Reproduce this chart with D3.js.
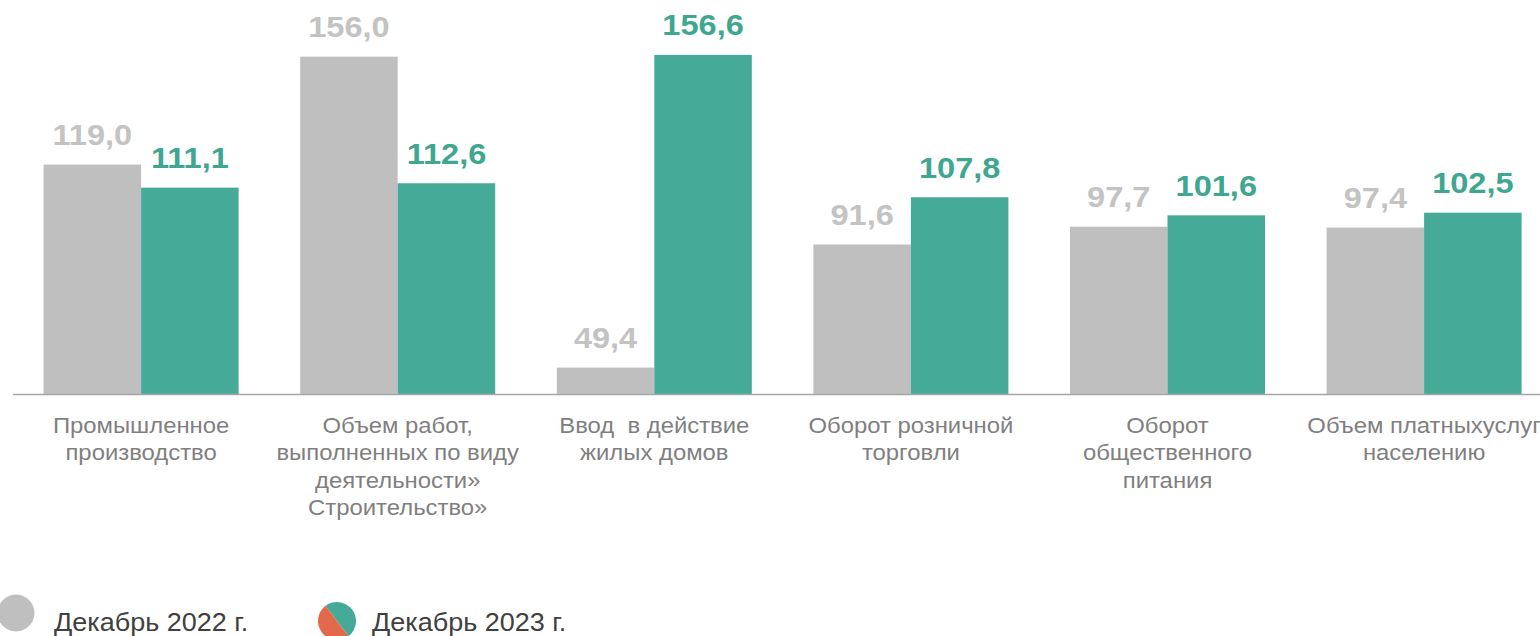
<!DOCTYPE html>
<html>
<head>
<meta charset="utf-8">
<script src="https://cdn.jsdelivr.net/npm/d3@7"></script>
<style>
    body { margin: 0; background: #fff; }
    svg { display: block; font-family: "Liberation Sans", Arial, sans-serif; }
</style>
</head>
<body>
<script>
var width = 1540,
    height = 636;

// data
var categories = [
    ["Промышленное", "производство"],
    ["Объем работ,", "выполненных по виду", "деятельности»", "Строительство»"],
    ["Ввод  в действие", "жилых домов"],
    ["Оборот розничной", "торговли"],
    ["Оборот", "общественного", "питания"],
    ["Объем платныхуслуг", "населению"]
];
var values2022 = [119.0, 156.0, 49.4, 91.6, 97.7, 97.4];
var values2023 = [111.1, 112.6, 156.6, 107.8, 101.6, 102.5];
var seriesNames = ["Декабрь 2022 г.", "Декабрь 2023 г."];
// end data

var grayBar = "#bfbfbf",
    greenBar = "#46aa98",
    grayLabel = "#c3c3c3",
    greenLabel = "#3fa690",
    orange = "#e2694a";

// text looks a bit wider than Liberation Sans in the original
var stretch = 1.085;

var svg = d3.select("body").append("svg")
    .attr("width", width)
    .attr("height", height);

var xRange = d3.scaleBand()
    .domain(d3.range(categories.length))
    .range([12.8, 1552.4])
    .paddingInner(0.24)
    .paddingOuter(0.12);

var xSeries = d3.scaleBand()
    .domain([0, 1])
    .range([0, xRange.bandwidth()]);

var yRange = d3.scaleLinear()
    .domain([40, 160])
    .range([395, 45]);

var rows = categories.map(function(c, i) {
    return { idx: i, lines: c, vals: [values2022[i], values2023[i]] };
});

// bars
var groups = svg.append("g").selectAll("g")
    .data(rows)
    .join("g")
    .attr("transform", function(d) { return "translate(" + xRange(d.idx) + ",0)"; });

groups.selectAll("rect")
    .data(function(d) { return d.vals; })
    .join("rect")
    .attr("x", function(d, i) { return xSeries(i); })
    .attr("y", function(d) { return yRange(d); })
    .attr("width", xSeries.bandwidth())
    .attr("height", function(d) { return yRange(40) - yRange(d); })
    .attr("fill", function(d, i) { return i === 0 ? grayBar : greenBar; });

groups.selectAll("text.val")
    .data(function(d) { return d.vals; })
    .join("text")
    .attr("class", "val")
    .attr("transform", function(d, i) {
        return "translate(" + (xSeries(i) + xSeries.bandwidth() / 2) + "," + (yRange(d) - 19.5) + ") scale(" + stretch + ",1)";
    })
    .attr("text-anchor", "middle")
    .attr("font-size", 30)
    .attr("font-weight", "bold")
    .attr("fill", function(d, i) { return i === 0 ? grayLabel : greenLabel; })
    .text(function(d) { return d3.format(".1f")(d).replace(".", ","); });

// axis line
svg.append("line")
    .attr("x1", 13)
    .attr("x2", width)
    .attr("y1", yRange(40) - 0.5)
    .attr("y2", yRange(40) - 0.5)
    .attr("stroke", "#a6a6a6")
    .attr("stroke-width", 1.5);

// category labels
groups.append("text")
    .attr("transform", "translate(" + (xRange.bandwidth() / 2) + ",432.5) scale(" + stretch + ",1)")
    .attr("text-anchor", "middle")
    .attr("font-size", 22)
    .attr("fill", "#7f7f7f")
    .style("white-space", "pre")
    .selectAll("tspan")
    .data(function(d) { return d.lines; })
    .join("tspan")
    .attr("x", 0)
    .attr("dy", function(d, i) { return i === 0 ? 0 : 27.6; })
    .text(function(d) { return d; });

// legend
var legend = svg.append("g");

legend.append("circle")
    .attr("cx", 16)
    .attr("cy", 613)
    .attr("r", 18.5)
    .attr("fill", grayBar);

legend.append("text")
    .attr("transform", "translate(54,631) scale(1.08,1)")
    .attr("font-size", 25)
    .attr("fill", "#404040")
    .text(seriesNames[0]);

var lcx = 337, lcy = 621, lr = 19,
    ang = 53 * Math.PI / 180;
var ax = lcx - lr * Math.cos(ang), ay = lcy - lr * Math.sin(ang),
    bx = lcx + lr * Math.cos(ang), by = lcy + lr * Math.sin(ang);

legend.append("path")
    .attr("d", "M" + ax + "," + ay + " A" + lr + "," + lr + " 0 0,1 " + bx + "," + by + " Z")
    .attr("fill", greenBar);

legend.append("path")
    .attr("d", "M" + bx + "," + by + " A" + lr + "," + lr + " 0 0,1 " + ax + "," + ay + " Z")
    .attr("fill", orange);

legend.append("text")
    .attr("transform", "translate(372,631) scale(1.08,1)")
    .attr("font-size", 25)
    .attr("fill", "#404040")
    .text(seriesNames[1]);
</script>
</body>
</html>
